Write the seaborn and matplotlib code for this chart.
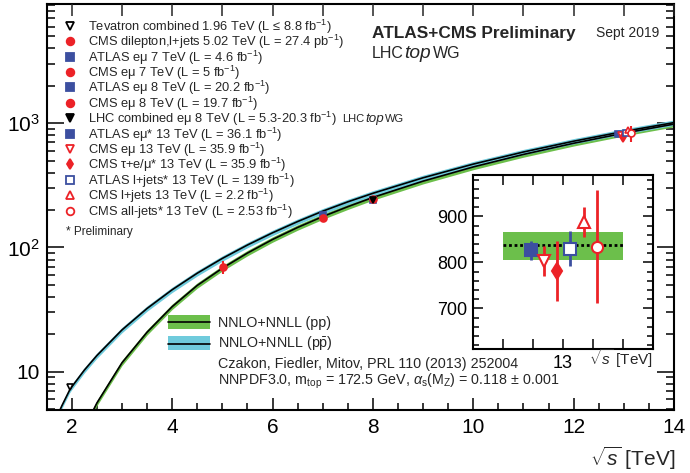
import numpy as np
import pandas as pd
import matplotlib
matplotlib.use("Agg")
import matplotlib.pyplot as plt
import seaborn as sns
from matplotlib.lines import Line2D
from matplotlib.patches import Rectangle
from matplotlib.ticker import FixedLocator, MultipleLocator, NullFormatter, FixedFormatter, LogLocator, NullLocator

# ---------------- data ----------------
# NNLO+NNLL theory, sqrt(s) [TeV] vs sigma_ttbar [pb]
pp_sqrts = [2.2, 2.5, 3.0, 3.5, 4.0, 4.5, 5.0, 5.5, 6.0, 6.5, 7.0, 7.5, 8.0, 9.0, 10.0, 11.0, 12.0, 13.0, 14.0]
pp_sigma = [3.2, 5.6, 11.8, 20.8, 33.4, 49.5, 68.1, 90.2, 116, 145, 177.3, 213, 252.9, 342, 445, 561, 690, 831.5, 984]
ppbar_sqrts = [1.7, 1.8, 1.96, 2.0, 2.25, 2.5, 3.0, 3.5, 4.0, 4.5, 5.0, 5.5, 6.0, 6.5, 7.0, 7.5, 8.0, 9.0, 10.0, 11.0, 12.0, 13.0, 14.0]
ppbar_sigma = [4.3, 5.3, 7.16, 7.56, 10.3, 13.5, 21.7, 32.3, 45.7, 62.1, 81.7, 104.7, 131.3, 161.7, 196, 233, 273, 364, 469, 587, 717, 859, 1012]
band_rel = 0.05          # relative half-width of the theory bands

# measurements (main panel)
meas_label = [
    "Tevatron combined 1.96 TeV (L \u2264 8.8 fb$^{-1}$)",
    "CMS dilepton,l+jets 5.02 TeV (L = 27.4 pb$^{-1}$)",
    "ATLAS e\u03bc 7 TeV (L = 4.6 fb$^{-1}$)",
    "CMS e\u03bc 7 TeV (L = 5 fb$^{-1}$)",
    "ATLAS e\u03bc 8 TeV (L = 20.2 fb$^{-1}$)",
    "CMS e\u03bc 8 TeV (L = 19.7 fb$^{-1}$)",
    "LHC combined e\u03bc 8 TeV (L = 5.3-20.3 fb$^{-1}$)",
    "ATLAS e\u03bc* 13 TeV (L = 36.1 fb$^{-1}$)",
    "CMS e\u03bc 13 TeV (L = 35.9 fb$^{-1}$)",
    "CMS \u03c4+e/\u03bc* 13 TeV (L = 35.9 fb$^{-1}$)",
    "ATLAS l+jets* 13 TeV (L = 139 fb$^{-1}$)",
    "CMS l+jets 13 TeV (L = 2.2 fb$^{-1}$)",
    "CMS all-jets* 13 TeV (L = 2.53 fb$^{-1}$)",
]
meas_sqrts = [1.96, 5.02, 7.0, 7.0, 8.0, 8.0, 8.0, 12.89, 12.94, 12.99, 13.04, 13.09, 13.14]
meas_sigma = [7.60, 69.5, 182.9, 173.6, 242.9, 244.9, 241.5, 826.4, 803, 781, 830, 888, 834]
meas_err   = [0.41, 8.4, 7.1, 6.4, 8.8, 9.9, 8.5, 20, 33, 65, 38, 33, 123]
meas_marker = ["v", "o", "s", "o", "s", "o", "v", "s", "v", "d", "s", "^", "o"]
meas_color  = ["k", "r", "b", "r", "b", "r", "k", "b", "r", "r", "b", "r", "r"]
meas_filled = [False, True, True, True, True, True, True, True, False, True, False, False, False]

# inset: 13 TeV measurements (indices into the lists above) and theory band
inset_idx = [7, 8, 9, 10, 11, 12]
th13_lo, th13_hi, th13_c = 806, 866, 838

# ---------------- style ----------------
sns.set_style("ticks")
plt.rcParams["font.family"] = ["Liberation Sans", "DejaVu Sans"]
plt.rcParams["mathtext.fontset"] = "custom"
plt.rcParams["mathtext.rm"] = "Liberation Sans"
plt.rcParams["mathtext.it"] = "Liberation Sans:italic"
plt.rcParams["mathtext.bf"] = "Liberation Sans:bold"
plt.rcParams["mathtext.sf"] = "Liberation Sans"

RED = "#ec2227"
BLUE = "#3c4fa0"
GREEN = "#6cbf4b"
CYAN = "#6fcbdc"
cmap = {"k": "black", "r": RED, "b": BLUE}

W, H = 690, 473
fig = plt.figure(figsize=(W / 100, H / 100), dpi=100)


def fx(x):
    return x / W


def fy(y):
    return 1 - y / H


ax = fig.add_axes([fx(46.7), fy(410), (674 - 46.7) / W, (410 - 3.5) / H])
ax.set_facecolor("white")

# theory bands + central lines
pp_s = np.array(pp_sigma)
pb_s = np.array(ppbar_sigma)
ax.fill_between(pp_sqrts, pp_s * (1 - band_rel), pp_s * (1 + band_rel), color=GREEN, lw=0, zorder=1)
ax.fill_between(ppbar_sqrts, pb_s * (1 - band_rel), pb_s * (1 + band_rel), color=CYAN, lw=0, zorder=1)
df_pp = pd.DataFrame({"sqrts": pp_sqrts, "sigma": pp_sigma})
df_pb = pd.DataFrame({"sqrts": ppbar_sqrts, "sigma": ppbar_sigma})
sns.lineplot(data=df_pp, x="sqrts", y="sigma", ax=ax, color="black", lw=1.2, zorder=2)
sns.lineplot(data=df_pb, x="sqrts", y="sigma", ax=ax, color="black", lw=1.2, zorder=2)

# measurements
for i in range(len(meas_sigma)):
    c = cmap[meas_color[i]]
    ax.errorbar(meas_sqrts[i], meas_sigma[i], yerr=meas_err[i], fmt=meas_marker[i],
                ms=5, mew=1.2, color=c, mfc=c if meas_filled[i] else "white",
                ecolor=c, elinewidth=1.5, capsize=0, zorder=5)

ax.set_yscale("log")
ax.set_xlim(1.5, 14)
ax.set_ylim(4.92, 9200)
ax.set_xlabel("")
ax.set_ylabel("")
ax.xaxis.set_major_locator(MultipleLocator(2))
ax.xaxis.set_minor_locator(MultipleLocator(0.5))
ax.yaxis.set_major_locator(FixedLocator([10, 100, 1000]))
ax.yaxis.set_major_formatter(FixedFormatter(["10", "$10^{2}$", "$10^{3}$"]))
ax.yaxis.set_minor_locator(LogLocator(base=10, subs=np.arange(2, 10)))
ax.yaxis.set_minor_formatter(NullFormatter())
ax.tick_params(which="both", direction="in", top=False, right=True, width=1.1, colors="black")
ax.tick_params(axis="x", which="major", length=8.5, labelsize=15, pad=6)
ax.tick_params(axis="x", which="minor", length=5)
ax.tick_params(axis="y", which="major", length=12, labelsize=15, pad=5)
ax.tick_params(axis="y", which="minor", length=6)
for s in ax.spines.values():
    s.set_linewidth(1.5)
    s.set_color("black")
    s.set_visible(True)

# top axis: ticks every 1 TeV
axt = ax.twiny()
axt.set_xlim(ax.get_xlim())
axt.xaxis.set_major_locator(MultipleLocator(1))
axt.xaxis.set_minor_locator(NullLocator())
axt.tick_params(axis="x", which="major", direction="in", length=8.5, width=1.1,
                labeltop=False, top=True, bottom=False)
axt.set_xlabel("")
for s in axt.spines.values():
    s.set_visible(False)

fig.text(fx(675), fy(466), r"$\sqrt{s}$ [TeV]", ha="right", va="baseline", fontsize=15)

# ---------------- measurement legend ----------------
row0, pitch = 25.7, 15.42
for i in range(len(meas_label)):
    yc = row0 + i * pitch
    c = cmap[meas_color[i]]
    fig.add_artist(Line2D([fx(70)], [fy(yc)], marker=meas_marker[i], ms=5.5, mew=1.3, color=c,
                          mfc=c if meas_filled[i] else "white", ls="none"))
    fig.text(fx(88), fy(yc + 5), meas_label[i], fontsize=9.3, va="baseline", ha="left")
fig.text(fx(66), fy(235), "* Preliminary", fontsize=8.5, va="baseline", ha="left")

renderer = fig.canvas.get_renderer()


def lhctop(x, y, size):
    t1 = fig.text(fx(x), fy(y), "LHC", fontsize=size, va="baseline", ha="left")
    bb = t1.get_window_extent(renderer)
    t2 = fig.text(bb.x1 / W + 0.001, fy(y), "top", fontsize=size * 1.2, style="italic",
                  va="baseline", ha="left")
    bb2 = t2.get_window_extent(renderer)
    fig.text(bb2.x1 / W + 0.002, fy(y), "WG", fontsize=size, va="baseline", ha="left")


lhctop(342, 121.7, 8)
fig.text(fx(372), fy(38.3), "ATLAS+CMS Preliminary", fontsize=12.4, weight="bold", va="baseline")
fig.text(fx(596), fy(37), "Sept 2019", fontsize=10, va="baseline")
lhctop(372, 58.3, 11.5)

# ---------------- theory legend ----------------
for yc, col in [(322, GREEN), (343.5, CYAN)]:
    fig.add_artist(Rectangle((fx(168), fy(yc + 7)), 42 / W, 14 / H, color=col, lw=0))
    fig.add_artist(Line2D([fx(168), fx(210)], [fy(yc), fy(yc)], color="black", lw=1.2))
fig.text(fx(218), fy(326.7), "NNLO+NNLL (pp)", fontsize=10.3, va="baseline")
fig.text(fx(218), fy(346.7), r"NNLO+NNLL (p$\bar{\mathrm{p}}$)", fontsize=10.3, va="baseline")
fig.text(fx(218), fy(368.3), "Czakon, Fiedler, Mitov, PRL 110 (2013) 252004", fontsize=10.3, va="baseline")
fig.text(fx(218), fy(385), r"NNPDF3.0, m$_{\mathrm{top}}$ = 172.5 GeV, $\alpha_{\mathrm{s}}$(M$_{\mathrm{Z}}$) = 0.118 $\pm$ 0.001",
         fontsize=10.3, va="baseline")

# ---------------- inset ----------------
axi = fig.add_axes([fx(473), fy(349), 180 / W, 174 / H])
axi.set_facecolor("white")
axi.fill_between([12.6, 13.4], th13_lo, th13_hi, color=GREEN, lw=0, zorder=1)
axi.plot([12.6, 13.4], [th13_c, th13_c], color="black", ls=(0, (1, 1)), lw=2, zorder=2)
inset_x = [12.785, 12.873, 12.961, 13.049, 13.137, 13.225]
for j, i in enumerate(inset_idx):
    c = cmap[meas_color[i]]
    axi.errorbar(inset_x[j], meas_sigma[i], yerr=meas_err[i], fmt=meas_marker[i],
                 ms=8, mew=1.5, color=c, mfc=c if meas_filled[i] else "white",
                 ecolor=c, elinewidth=2, capsize=0, zorder=5)
axi.set_xlim(12.4, 13.6)
axi.set_ylim(612, 990)
axi.set_xticks([12.6, 12.8, 13.0, 13.2, 13.4])
axi.set_xticklabels(["", "", "13", "", ""])
axi.yaxis.set_major_locator(MultipleLocator(100))
axi.yaxis.set_minor_locator(MultipleLocator(20))
axi.tick_params(which="both", direction="in", top=True, right=True, width=1.1, colors="black")
axi.tick_params(which="major", length=7, labelsize=13, pad=4)
axi.tick_params(which="minor", length=4)
for s in axi.spines.values():
    s.set_linewidth(1.5)
    s.set_color("black")
    s.set_visible(True)
fig.text(fx(653), fy(365), r"$\sqrt{s}$ [TeV]", ha="right", va="baseline", fontsize=11)

fig.savefig("out.png", dpi=100)
